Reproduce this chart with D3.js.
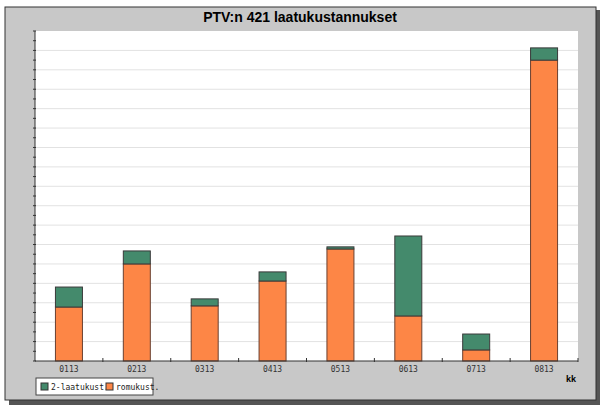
<!DOCTYPE html><html><head><meta charset="utf-8"><script src="https://cdn.jsdelivr.net/npm/d3@7"></script>
<style>body{margin:0;background:#fff}</style></head><body><svg id="c" width="602" height="409"></svg>
<script>
const categories=["0113","0213","0313","0413","0513","0613","0713","0813"];
const romukust=[2.78,5.0,2.84,4.12,5.77,2.32,0.57,15.5];
const laatukust=[1.03,0.67,0.36,0.47,0.11,4.12,0.82,0.63];
const seriesNames=["2-laatukust.","romukust."];
const colors={laatu:"#448a6c",romu:"#fd8646"};
const svg=d3.select("#c");
svg.append("rect").attr("x",9).attr("y",10).attr("width",591).attr("height",395).attr("fill","#555");
svg.append("rect").attr("x",5).attr("y",7).attr("width",591).attr("height",393).attr("fill","#c8c8c8").attr("stroke","#333");
const L=35,R=578,T=31,B=361;
svg.append("rect").attr("x",L).attr("y",T).attr("width",R-L).attr("height",B-T).attr("fill","#fff");
const x=d3.scaleBand().domain(categories).range([L,R]).paddingInner(0.6).paddingOuter(0.3);
const xb=d3.scaleBand().domain(categories).range([L,R]);
const y=d3.scaleLinear().domain([0,17]).range([B,T]);
const g=svg.append("g");
d3.range(1,17).forEach(v=>g.append("line").attr("x1",L).attr("x2",R).attr("y1",y(v)).attr("y2",y(v)).attr("stroke","#e2e2e2"));
d3.range(0,17.01,0.5).forEach(v=>g.append("line").attr("x1",L-2).attr("x2",L+1).attr("y1",y(v)).attr("y2",y(v)).attr("stroke","#333"));
categories.forEach((c,i)=>{
  const bx=xb(c)+xb.bandwidth()/2-13.5;
  g.append("rect").attr("x",bx).attr("width",27).attr("y",y(romukust[i])).attr("height",y(0)-y(romukust[i])).attr("fill",colors.romu).attr("stroke","#6a4030");
  g.append("rect").attr("x",bx).attr("width",27).attr("y",y(romukust[i]+laatukust[i])).attr("height",y(romukust[i])-y(romukust[i]+laatukust[i])).attr("fill",colors.laatu).attr("stroke","#3a3a3a");
  g.append("text").attr("x",xb(c)+xb.bandwidth()/2).attr("y",372).attr("text-anchor","middle").attr("font-family","DejaVu Sans Mono").attr("font-size",8).attr("fill","#333").text(c);
  g.append("line").attr("x1",xb(c)+xb.bandwidth()).attr("x2",xb(c)+xb.bandwidth()).attr("y1",B-3).attr("y2",B+1).attr("stroke","#333");
});
g.append("line").attr("x1",L).attr("x2",R).attr("y1",B).attr("y2",B).attr("stroke","#333");
g.append("line").attr("x1",L).attr("x2",L).attr("y1",T).attr("y2",B).attr("stroke","#333");
svg.append("text").attr("x",300).attr("y",22).attr("text-anchor","middle").attr("font-family","Liberation Sans").attr("font-weight","bold").attr("font-size",14).text("PTV:n  421 laatukustannukset");
svg.append("text").attr("x",576).attr("y",382).attr("text-anchor","end").attr("font-family","Liberation Sans").attr("font-weight","bold").attr("font-size",9).text("kk");
svg.append("rect").attr("x",36).attr("y",378).attr("width",117).attr("height",17).attr("fill","#fff").attr("stroke","#444");
svg.append("rect").attr("x",38).attr("y",381).attr("width",117).attr("height",17).attr("fill","none").attr("stroke","#999").attr("opacity",0);
[[colors.laatu,seriesNames[0],41],[colors.romu,seriesNames[1],106]].forEach(([col,t,lx])=>{
  svg.append("rect").attr("x",lx).attr("y",383).attr("width",7).attr("height",7).attr("fill",col).attr("stroke","#333");
  svg.append("text").attr("x",lx+10).attr("y",390).attr("font-family","DejaVu Sans Mono").attr("font-size",8).attr("fill","#222").text(t);
});
</script></body></html>
